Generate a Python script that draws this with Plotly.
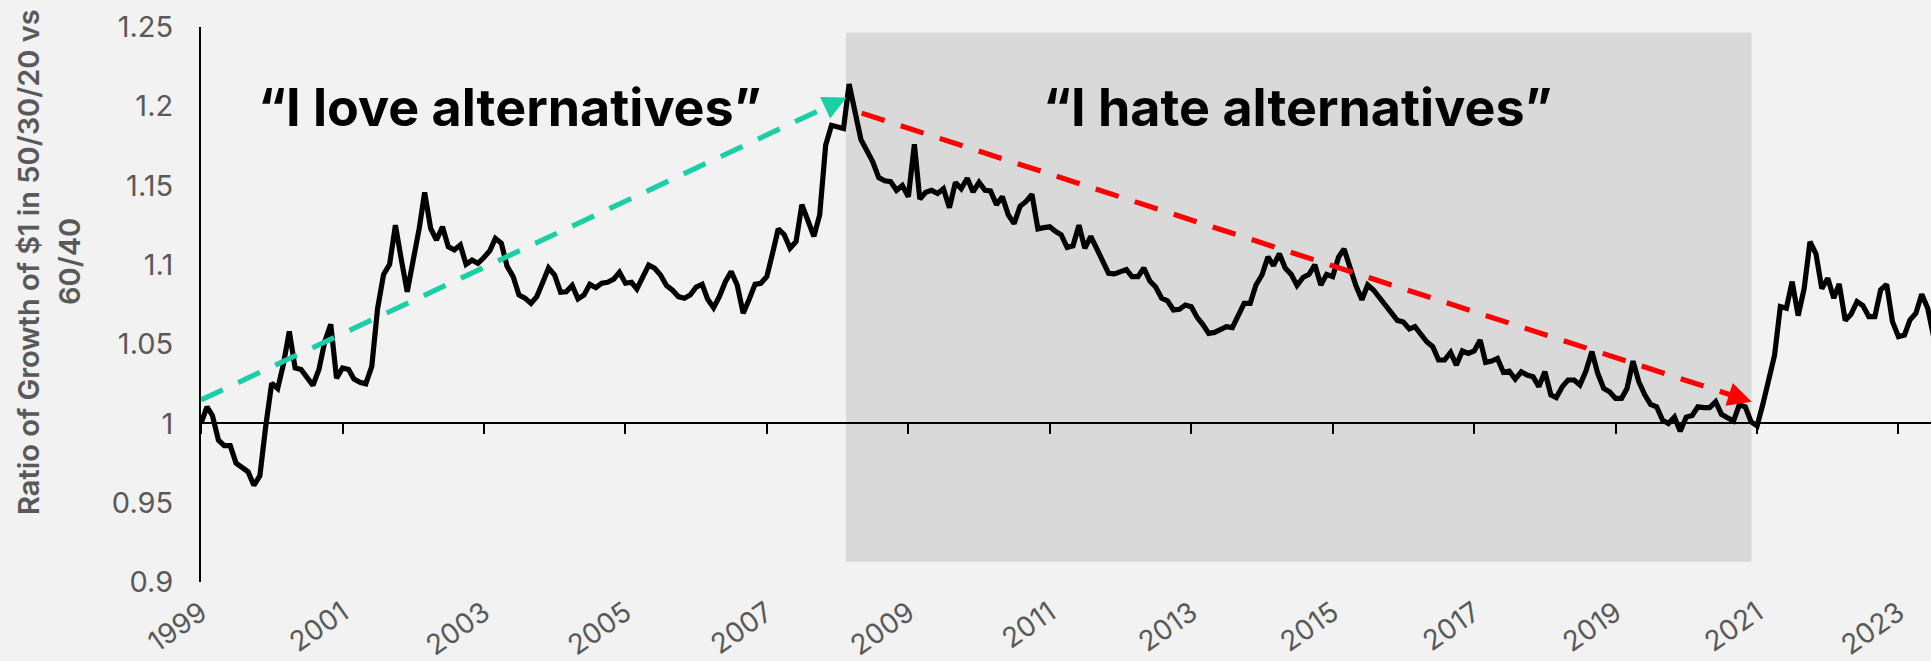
import pandas as pd
import plotly.graph_objects as go

# Monthly ratio of growth of $1 (50/30/20 vs 60/40), starting Jan 1999
ratio = [
    1.000, 1.0105, 1.005, 0.9895, 0.986, 0.986, 0.975, 0.972, 0.9695, 0.961,
    0.967, 0.998, 1.0253, 1.022, 1.037, 1.058, 1.035, 1.034, 1.0295, 1.024,
    1.034, 1.0515, 1.0625, 1.0285, 1.035, 1.034, 1.028, 1.026, 1.025, 1.036,
    1.0725, 1.094, 1.1003, 1.125, 1.103, 1.083, 1.103, 1.123, 1.1457, 1.123,
    1.1157, 1.124, 1.1115, 1.1094, 1.1125, 1.1003, 1.103, 1.101, 1.1046, 1.109,
    1.1167, 1.1136, 1.099, 1.0926, 1.081, 1.079, 1.0757, 1.080, 1.089, 1.098,
    1.0936, 1.0827, 1.083, 1.087, 1.0785, 1.081, 1.0877, 1.0856, 1.0884, 1.089,
    1.091, 1.0953, 1.0884, 1.089, 1.0848, 1.0926, 1.0999, 1.0978, 1.0936, 1.087,
    1.084, 1.080, 1.079, 1.081, 1.086, 1.0877, 1.0785, 1.073, 1.080, 1.0894,
    1.0957, 1.0873, 1.0695, 1.078, 1.0877, 1.0884, 1.0926, 1.108, 1.1227, 1.119,
    1.1105, 1.1147, 1.138, 1.128, 1.118, 1.1315, 1.1756, 1.188, 1.187, 1.186,
    1.214, 1.1946, 1.179, 1.172, 1.165, 1.155, 1.153, 1.1525, 1.147, 1.150,
    1.143, 1.176, 1.1416, 1.1458, 1.147, 1.145, 1.148, 1.136, 1.152, 1.148,
    1.1546, 1.146, 1.152, 1.147, 1.1466, 1.138, 1.143, 1.1315, 1.126, 1.137,
    1.140, 1.1445, 1.1227, 1.1235, 1.124, 1.121, 1.119, 1.111, 1.112, 1.125,
    1.1105, 1.118, 1.1105, 1.103, 1.0947, 1.0943, 1.0957, 1.097, 1.0926, 1.0926,
    1.098, 1.0898, 1.086, 1.079, 1.0772, 1.0716, 1.072, 1.0747, 1.0736, 1.0667,
    1.0625, 1.0568, 1.0574, 1.0596, 1.061, 1.0604, 1.0674, 1.0757, 1.0757, 1.0873,
    1.0936, 1.105, 1.0995, 1.107, 1.098, 1.094, 1.087, 1.092, 1.094, 1.100,
    1.0873, 1.094, 1.0926, 1.105, 1.110, 1.097, 1.087, 1.078, 1.0873, 1.084,
    1.079, 1.075, 1.0694, 1.065, 1.064, 1.0596, 1.061, 1.0557, 1.0515, 1.0484,
    1.040, 1.040, 1.0448, 1.0368, 1.0457, 1.0442, 1.0457, 1.0526, 1.0385, 1.0393,
    1.041, 1.0322, 1.033, 1.028, 1.0326, 1.0305, 1.0295, 1.0232, 1.0326, 1.018,
    1.0163, 1.0232, 1.0274, 1.0274, 1.0242, 1.033, 1.0453, 1.0316, 1.022, 1.020,
    1.0158, 1.0158, 1.022, 1.0393, 1.0263, 1.018, 1.012, 1.0105, 1.002, 1.000,
    1.004, 0.995, 1.004, 1.005, 1.0105, 1.010, 1.010, 1.0137, 1.0057, 1.0036,
    1.0015, 1.0116, 1.0105, 1.001, 0.9985, 1.0127, 1.0263, 1.043, 1.0737, 1.0726,
    1.0894, 1.068, 1.085, 1.1146, 1.107, 1.085, 1.0915, 1.079, 1.088, 1.065,
    1.0688, 1.0768, 1.0743, 1.0674, 1.0674, 1.0842, 1.0877, 1.0642, 1.0547, 1.0557,
    1.0652, 1.0695, 1.0814, 1.0726, 1.055,
]
start_month = "1999-01-01"
dates = pd.date_range(start_month, periods=len(ratio), freq="MS")

x_range = ["1999-01-01", "2023-06-18"]
tick_years = list(range(1999, 2024, 2))
tick_dates = [f"{y}-01-01" for y in tick_years]
tick_labels = [str(y) for y in tick_years]
y_range = [0.9, 1.25]
y_ticks = [0.9, 0.95, 1.0, 1.05, 1.1, 1.15, 1.2, 1.25]
baseline_value = 1.0

shade_period = ["2008-02-14", "2020-12-03"]
shade_levels = [0.9128, 1.2465]

love_arrow_x = ["1999-01-01", "2008-02-17"]
love_arrow_y = [1.0148, 1.2055]
hate_arrow_x = ["2008-05-05", "2020-12-04"]
hate_arrow_y = [1.1957, 1.0137]

label_texts = ["\u201cI love alternatives\u201d", "\u201cI hate alternatives\u201d"]
label_x = ["2003-05-13", "2014-07-01"]
label_y = [1.1991, 1.1991]

y_title_lines = ["Ratio of Growth of $1 in 50/30/20 vs", "60/40"]

GREEN = "#1ACFA6"
RED = "#FF0000"
GRAY = "#595959"
BG = "#F2F2F2"
FONT = "Inter"

W, H = 1931, 661
ML, MR, MT, MB = 201, 0, 27, 79


def back_point(xs, ys, frac):
    x0, x1 = pd.Timestamp(xs[0]), pd.Timestamp(xs[1])
    return x0 + (x1 - x0) * (1 - frac), ys[0] + (ys[1] - ys[0]) * (1 - frac)


fig = go.Figure()

fig.add_shape(type="rect", xref="x", yref="y",
              x0=shade_period[0], x1=shade_period[1],
              y0=shade_levels[0], y1=shade_levels[1],
              fillcolor="#D9D9D9", line=dict(width=0), layer="below")

fig.add_trace(go.Scatter(x=dates, y=ratio, mode="lines",
                         line=dict(color="black", width=5.2),
                         hoverinfo="skip", showlegend=False))

annotations = []
for xs, ys, color, frac in [(love_arrow_x, love_arrow_y, GREEN, 0.026),
                            (hate_arrow_x, hate_arrow_y, RED, 0.02)]:
    bx, by = back_point(xs, ys, frac)
    fig.add_trace(go.Scatter(x=[pd.Timestamp(xs[0]), bx], y=[ys[0], by],
                             mode="lines", xaxis="x2",
                             line=dict(color=color, width=5.2, dash="24px,17px"),
                             hoverinfo="skip", showlegend=False))
    annotations.append(dict(x=xs[1], y=ys[1], ax=bx, ay=by,
                            xref="x", yref="y", axref="x", ayref="y",
                            text="", showarrow=True, arrowhead=2,
                            arrowsize=0.95, arrowwidth=5, arrowcolor=color,
                            standoff=0))

for t, lx, ly in zip(label_texts, label_x, label_y):
    annotations.append(dict(x=lx, y=ly, xref="x", yref="y", text=t,
                            showarrow=False, xanchor="center", yanchor="middle",
                            font=dict(family=FONT, size=52, color="black",
                                      weight=700)))

plot_w = W - ML - MR
plot_h = H - MT - MB
title_y_px = 262
for line_txt, cx in zip(y_title_lines, [28, 69]):
    annotations.append(dict(x=(cx - ML) / plot_w, y=(H - MB - title_y_px) / plot_h,
                            xref="paper", yref="paper", text=line_txt,
                            textangle=-90, showarrow=False,
                            xanchor="center", yanchor="middle",
                            font=dict(family=FONT, size=29, color=GRAY,
                                      weight=600)))

base_pos = (baseline_value - y_range[0]) / (y_range[1] - y_range[0])

fig.update_layout(
    width=W, height=H,
    margin=dict(l=ML, r=MR, t=MT, b=MB, pad=0, autoexpand=False),
    paper_bgcolor=BG, plot_bgcolor=BG,
    showlegend=False,
    annotations=annotations,
    xaxis=dict(type="date", range=x_range, tickvals=tick_dates,
               ticktext=tick_labels, tickangle=-35, showline=False,
               showgrid=False, zeroline=False, ticks="", automargin=False,
               ticklabelstandoff=8,
               tickfont=dict(family=FONT, size=28, color=GRAY)),
    xaxis2=dict(type="date", overlaying="x", matches="x", anchor="free",
                position=base_pos, range=x_range, tickvals=tick_dates,
                showticklabels=False, showline=True, linecolor="black",
                linewidth=2, ticks="outside", ticklen=10, tickwidth=2,
                automargin=False,
                tickcolor="black", showgrid=False, zeroline=False),
    yaxis=dict(range=y_range, tickvals=y_ticks, showline=True,
               linecolor="black", linewidth=2, ticks="", showgrid=False,
               zeroline=False, ticklabelstandoff=20, automargin=False,
               tickfont=dict(family=FONT, size=29, color=GRAY)),
)

fig.write_html("out.html", config={"displayModeBar": False})
